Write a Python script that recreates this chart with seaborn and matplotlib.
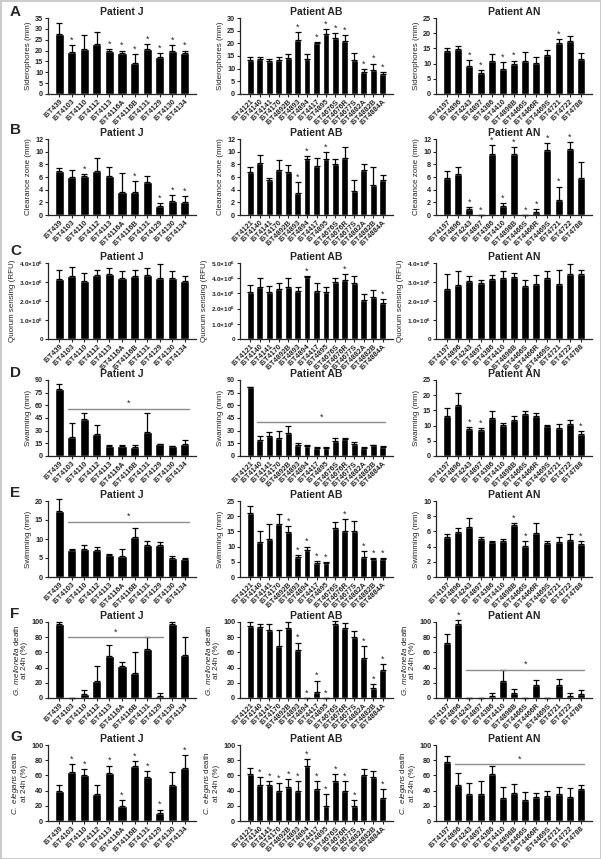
import matplotlib
matplotlib.use("Agg")
import matplotlib.pyplot as plt
import numpy as np
import pandas as pd
import seaborn as sns

# -----------------------------
# Strains
# -----------------------------
strains_J = ["IST439", "IST4103", "IST4110", "IST4112", "IST4113", "IST4116A",
             "IST4116B", "IST4131", "IST4129", "IST4130", "IST4134"]
strains_AB = ["IST4121", "IST4140", "IST4141", "IST4170", "IST4892B", "IST4893",
              "IST4894", "IST4417", "IST4895", "IST4676S", "IST4676R", "IST4677S",
              "IST4882A", "IST4882B", "IST4884A"]
strains_AN = ["IST4197", "IST4896", "IST4243", "IST4897", "IST4386", "IST4410",
              "IST4898B", "IST4466S", "IST4466R", "IST4469S", "IST4721", "IST4722",
              "IST4788"]

# -----------------------------
# A: siderophores (mm)
# -----------------------------
A_J = [27.5, 19.5, 20.5, 23.0, 20.0, 19.0, 14.5, 20.5, 17.0, 20.0, 19.0]
A_J_sd = [5.0, 3.0, 6.5, 5.5, 0.7, 1.0, 4.0, 2.5, 2.0, 2.5, 1.0]
A_J_sig = [1, 4, 5, 6, 7, 8, 9, 10]
A_AB = [13.3, 14.0, 13.0, 13.5, 14.3, 21.5, 13.7, 20.0, 23.5, 22.3, 20.8, 13.5, 8.5, 9.5, 7.7]
A_AB_sd = [1.3, 0.5, 1.0, 1.0, 1.5, 2.8, 2.0, 0.4, 2.0, 1.6, 2.3, 2.5, 1.3, 2.5, 0.8]
A_AB_sig = [5, 7, 8, 9, 10, 12, 13, 14]
A_AN = [14.0, 14.8, 9.3, 7.0, 11.0, 8.2, 10.0, 11.0, 10.3, 12.8, 16.8, 17.3, 11.5]
A_AN_sd = [1.2, 1.0, 1.8, 1.0, 2.3, 2.2, 1.0, 2.7, 2.0, 1.6, 1.3, 1.8, 2.0]
A_AN_sig = [2, 3, 5, 6, 10]

# -----------------------------
# B: clearance zone (mm)
# -----------------------------
B_J = [7.0, 6.0, 6.2, 7.0, 6.1, 3.7, 3.7, 5.2, 1.4, 2.2, 2.0]
B_J_sd = [0.4, 1.1, 0.3, 2.0, 1.5, 3.0, 1.7, 1.0, 0.5, 0.9, 1.0]
B_J_sig = [2, 6, 8, 9, 10]
B_AB = [6.8, 8.2, 5.6, 7.1, 6.8, 3.5, 8.9, 7.8, 8.9, 8.0, 9.0, 3.8, 7.1, 4.8, 5.5]
B_AB_sd = [0.8, 1.2, 0.2, 1.6, 1.1, 1.7, 0.4, 1.2, 1.0, 0.9, 1.7, 1.7, 1.0, 2.8, 0.8]
B_AB_sig = [5, 6, 8]
B_AN = [5.9, 6.4, 0.9, 0.0, 9.7, 1.4, 9.7, 0.0, 0.5, 10.3, 2.3, 10.5, 5.8]
B_AN_sd = [1.0, 1.2, 0.3, 0.0, 1.3, 0.5, 1.0, 0.0, 0.5, 1.0, 2.2, 1.0, 2.5]
B_AN_sig = [2, 3, 4, 5, 6, 7, 8, 9, 10, 11]

# -----------------------------
# C: quorum sensing (RFU)
# -----------------------------
C_J = [3.15e6, 3.32e6, 3.07e6, 3.35e6, 3.40e6, 3.23e6, 3.32e6, 3.37e6, 3.20e6, 3.20e6, 3.03e6]
C_J_sd = [0.50e6, 0.45e6, 0.42e6, 0.30e6, 0.35e6, 0.33e6, 0.30e6, 0.38e6, 0.75e6, 0.40e6, 0.30e6]
C_J_sig = []
C_AB = [3.10e6, 3.42e6, 3.10e6, 3.30e6, 3.40e6, 3.15e6, 4.05e6, 3.15e6, 3.10e6, 3.75e6,
        3.85e6, 3.68e6, 2.55e6, 2.75e6, 2.35e6]
C_AB_sd = [0.42e6, 0.60e6, 0.40e6, 0.40e6, 0.60e6, 0.30e6, 0.12e6, 0.55e6, 0.35e6, 0.25e6,
           0.40e6, 0.45e6, 0.40e6, 0.45e6, 0.30e6]
C_AB_sig = [6, 10, 14]
C_AN = [2.65e6, 2.85e6, 3.05e6, 2.93e6, 3.17e6, 3.22e6, 3.27e6, 2.80e6, 2.87e6, 3.20e6,
        2.90e6, 3.43e6, 3.43e6]
C_AN_sd = [0.75e6, 0.75e6, 0.28e6, 0.15e6, 0.18e6, 0.35e6, 0.20e6, 0.33e6, 0.48e6, 0.40e6,
           0.72e6, 0.50e6, 0.18e6]
C_AN_sig = []

# -----------------------------
# D: swarming (mm)
# -----------------------------
D_J = [79.0, 23.0, 44.0, 26.0, 11.5, 11.5, 11.0, 29.0, 14.0, 11.5, 14.0]
D_J_sd = [6.0, 16.0, 7.0, 11.0, 1.0, 1.0, 1.5, 22.0, 0.8, 0.8, 5.5]
D_J_sig = []
D_AB = [82.0, 19.0, 24.0, 21.5, 27.5, 13.5, 12.0, 10.0, 9.5, 18.0, 20.0, 14.0, 10.0, 12.5, 11.0]
D_AB_sd = [0.0, 5.0, 4.0, 8.5, 8.0, 2.0, 0.8, 1.0, 0.8, 3.0, 0.8, 2.0, 0.5, 1.0, 0.8]
D_AB_sig = []
D_AN = [13.0, 16.8, 8.8, 8.5, 12.4, 10.2, 12.0, 13.7, 13.0, 9.8, 9.2, 10.4, 7.4]
D_AN_sd = [2.7, 3.8, 0.8, 0.6, 2.3, 0.8, 1.0, 1.0, 1.0, 0.3, 1.4, 1.6, 0.8]
D_AN_sig = [2, 3, 12]

# -----------------------------
# E: swimming (mm)
# -----------------------------
E_J = [17.5, 7.0, 7.5, 7.0, 5.8, 5.5, 10.5, 8.3, 8.3, 5.0, 4.8]
E_J_sd = [3.0, 0.5, 0.8, 1.0, 0.3, 2.0, 2.5, 1.3, 0.8, 0.5, 0.3]
E_J_sig = []
E_AB = [21.0, 11.5, 12.5, 17.3, 14.8, 6.5, 9.0, 4.5, 4.5, 16.0, 15.0, 15.0, 6.5, 5.8, 5.8]
E_AB_sd = [2.5, 3.5, 5.0, 3.5, 2.0, 0.8, 1.0, 0.6, 0.5, 2.0, 4.0, 3.5, 2.0, 0.5, 0.5]
E_AB_sig = [4, 5, 6, 7, 8, 10, 12, 13, 14]
E_AN = [5.2, 5.9, 6.6, 5.0, 4.6, 4.7, 6.8, 4.1, 5.8, 4.5, 4.6, 4.9, 4.4]
E_AN_sd = [0.5, 0.6, 1.2, 0.3, 0.2, 0.3, 0.3, 0.6, 1.3, 0.3, 0.7, 0.7, 0.3]
E_AN_sig = [6, 7, 12]

# -----------------------------
# F: G. mellonella death at 24h (%)
# -----------------------------
F_J = [97.0, 0.0, 5.0, 22.0, 55.0, 42.0, 33.0, 65.0, 2.0, 97.0, 57.0]
F_J_sd = [3.0, 0.0, 5.0, 20.0, 15.0, 5.0, 28.0, 15.0, 5.0, 3.0, 23.0]
F_J_sig = []
F_AB = [95.0, 93.0, 90.0, 68.0, 92.0, 63.0, 0.0, 8.0, 0.0, 98.0, 92.0, 80.0, 53.0, 13.0, 37.0]
F_AB_sd = [5.0, 5.0, 8.0, 22.0, 8.0, 10.0, 0.0, 15.0, 0.0, 3.0, 7.0, 8.0, 15.0, 5.0, 8.0]
F_AB_sig = [5, 6, 7, 8, 12, 13, 14]
F_AN = [72.0, 97.0, 0.0, 0.0, 3.0, 22.0, 7.0, 0.0, 17.0, 0.0, 17.0, 3.0, 5.0]
F_AN_sd = [12.0, 5.0, 0.0, 0.0, 3.0, 15.0, 5.0, 0.0, 7.0, 0.0, 8.0, 3.0, 5.0]
F_AN_sig = [1]

# -----------------------------
# G: C. elegans death at 24h (%)
# -----------------------------
G_J = [40.0, 65.0, 60.0, 35.0, 63.0, 20.0, 72.0, 58.0, 10.0, 47.0, 70.0]
G_J_sd = [8.0, 10.0, 8.0, 12.0, 10.0, 8.0, 7.0, 8.0, 5.0, 17.0, 17.0]
G_J_sig = [1, 2, 4, 5, 6, 7, 8, 10]
G_AB = [62.0, 48.0, 48.0, 40.0, 45.0, 40.0, 72.0, 42.0, 20.0, 52.0, 40.0, 20.0, 60.0, 58.0, 30.0]
G_AB_sd = [8.0, 10.0, 5.0, 10.0, 10.0, 12.0, 10.0, 10.0, 15.0, 10.0, 12.0, 7.0, 8.0, 8.0, 12.0]
G_AB_sig = [1, 2, 3, 4, 5, 6, 7, 8, 9, 10, 11, 14]
G_AN = [78.0, 48.0, 35.0, 35.0, 62.0, 30.0, 37.0, 28.0, 32.0, 33.0, 35.0, 32.0, 42.0]
G_AN_sd = [7.0, 15.0, 15.0, 17.0, 10.0, 15.0, 12.0, 10.0, 5.0, 7.0, 10.0, 12.0, 5.0]
G_AN_sig = []

# horizontal significance lines: (row, patient) -> (first bar, last bar, height)
brackets = {
    ("D", "J"): (1, 10, 56),
    ("D", "AB"): (1, 14, 40),
    ("E", "J"): (1, 10, 14.5),
    ("F", "J"): (1, 8, 80),
    ("F", "AN"): (2, 12, 37),
    ("G", "AN"): (1, 12, 75),
}

# -----------------------------
# Style
# -----------------------------
sns.set_theme(style="ticks")
plt.rcParams["font.family"] = ["Liberation Sans", "DejaVu Sans"]
plt.rcParams["mathtext.fontset"] = "custom"
plt.rcParams["mathtext.rm"] = "Liberation Sans"
plt.rcParams["mathtext.it"] = "Liberation Sans:italic"
plt.rcParams["mathtext.bf"] = "Liberation Sans:bold"

W, H = 601, 859
fig = plt.figure(figsize=(W / 100, H / 100), dpi=100)
fig.patch.set_facecolor("white")
fig.patch.set_edgecolor("0.8")
fig.patch.set_linewidth(2)

strains = {"J": strains_J, "AB": strains_AB, "AN": strains_AN}
col_x = {"J": (48, 148), "AB": (240, 153), "AN": (436, 156)}
row_top = {"A": 18, "B": 139, "C": 263, "D": 380, "E": 501, "F": 622, "G": 745}
letter_y = {"A": 12, "B": 130, "C": 251, "D": 373, "E": 493, "F": 614, "G": 737}
row_h = 76

row_label = {
    "A": "Siderophores (mm)",
    "B": "Clearance zone (mm)",
    "C": "Quorum sensing (RFU)",
    "D": "Swarming (mm)",
    "E": "Swimming (mm)",
    "F": r"$\it{G.\ mellonella}$ death" + "\nat 24h (%)",
    "G": r"$\it{C.\ elegans}$ death" + "\nat 24h (%)",
}
row_ticks = {
    ("A", "J"): (35, 5), ("A", "AB"): (30, 5), ("A", "AN"): (25, 5),
    ("B", "J"): (12, 2), ("B", "AB"): (12, 2), ("B", "AN"): (12, 2),
    ("C", "J"): (4e6, 1e6), ("C", "AB"): (5e6, 1e6), ("C", "AN"): (4e6, 1e6),
    ("D", "J"): (90, 15), ("D", "AB"): (90, 15), ("D", "AN"): (25, 5),
    ("E", "J"): (20, 5), ("E", "AB"): (25, 5), ("E", "AN"): (10, 2),
    ("F", "J"): (100, 20), ("F", "AB"): (100, 20), ("F", "AN"): (100, 20),
    ("G", "J"): (100, 20), ("G", "AB"): (100, 20), ("G", "AN"): (100, 20),
}

g = globals()


def sci_fmt(v, pos):
    if v == 0:
        return "0"
    return r"$\mathbf{%.1f{\times}10^{6}}$" % (v / 1e6)


for r in "ABCDEFG":
    fig.text(10 / W, 1 - letter_y[r] / H, r, fontsize=11, fontweight="bold",
             ha="left", va="center")
    for p in ["J", "AB", "AN"]:
        x0, w = col_x[p]
        ax = fig.add_axes([x0 / W, 1 - (row_top[r] + row_h) / H, w / W, row_h / H])
        mean = g[f"{r}_{p}"]
        sd = g[f"{r}_{p}_sd"]
        sig = g[f"{r}_{p}_sig"]
        df = pd.DataFrame({"Strain": strains[p], "Value": mean})
        sns.barplot(data=df, x="Strain", y="Value", color="black", width=0.72,
                    saturation=1, ax=ax)
        xs = np.arange(len(mean))
        ax.errorbar(xs, mean, yerr=[np.zeros(len(sd)), sd], fmt="none",
                    ecolor="black", elinewidth=0.9, capsize=2.2, capthick=0.9,
                    clip_on=False)
        top, step = row_ticks[(r, p)]
        ax.set_ylim(0, top)
        ax.set_yticks(np.arange(0, top + step / 2, step))
        if r == "C":
            ax.yaxis.set_major_formatter(matplotlib.ticker.FuncFormatter(sci_fmt))
        for i in sig:
            ax.text(i, mean[i] + sd[i] + top * 0.005, "*", ha="center", va="bottom",
                    fontsize=6.5)
        if (r, p) in brackets:
            a, b, y = brackets[(r, p)]
            ax.plot([a - 0.3, b + 0.3], [y, y], color="0.55", lw=1.0)
            ax.text((a + b) / 2, y + top * 0.01, "*", ha="center", va="bottom",
                    fontsize=6.5)
        ax.set_xlabel("")
        ax.set_ylabel(row_label[r], fontsize=5.8, labelpad=2, linespacing=1.1)
        ax.set_title(f"Patient {p}", fontsize=7.5, fontweight="bold", pad=2.5)
        ax.tick_params(axis="x", labelsize=5.2, length=2, width=0.8, pad=1)
        ax.tick_params(axis="y", labelsize=4.6 if r == "C" else 5.2, length=2.5,
                       width=0.8, pad=1)
        for lab in ax.get_xticklabels():
            lab.set_rotation(45)
            lab.set_ha("right")
            lab.set_rotation_mode("anchor")
            lab.set_fontweight("bold")
        for lab in ax.get_yticklabels():
            lab.set_fontweight("bold")
        sns.despine(ax=ax)
        for s in ["left", "bottom"]:
            ax.spines[s].set_linewidth(0.9)

fig.savefig("out.png", dpi=100)
plt.close(fig)
